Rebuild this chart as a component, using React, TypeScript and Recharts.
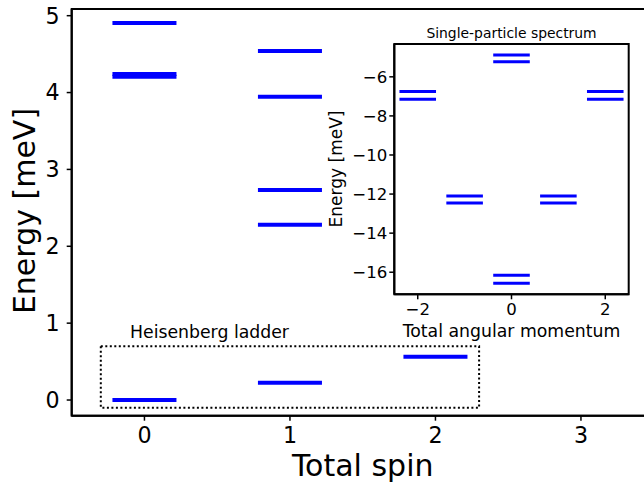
import React from 'react';
import { LineChart, Line, XAxis, YAxis, ReferenceArea } from 'recharts';

const FONT = '"DejaVu Sans", sans-serif';

// Main panel: many-body levels per total spin
const spins = [0, 1, 2];
const spinLevels: number[][] = [
  [4.906, 4.24, 4.205, 0],
  [4.54, 3.946, 2.732, 2.281, 0.225],
  [0.563],
];
const mainXTicks = [0, 1, 2, 3];
const mainYTicks = [0, 1, 2, 3, 4, 5];
const mainHalfWidth = 0.22;
const ladderBox = { x1: -0.3, x2: 2.3, y1: -0.1, y2: 0.7 };

// Inset: single-particle spectrum per angular momentum
const momenta = [-2, -1, 0, 1, 2];
const momentumLevels: number[][] = [
  [-6.75, -7.15],
  [-12.1, -12.46],
  [-4.88, -5.23, -16.15, -16.56],
  [-12.1, -12.46],
  [-6.75, -7.15],
];
const insetXTicks = [-2, 0, 2];
const insetYTicks = [-6, -8, -10, -12, -14, -16];
const insetHalfWidth = 0.39;

const mainXDomain: [number, number] = [-0.5, 3.5];
const mainYDomain: [number, number] = [-0.204, 5.087];
const insetXDomain: [number, number] = [-2.5, 2.5];
const insetYDomain: [number, number] = [-17.13, -4.32];

const makeSegments = (xs: number[], levels: number[][], hw: number) => {
  const segs: { key: string; data: { x: number; y: number }[] }[] = [];
  xs.forEach((x, i) => {
    levels[i].forEach((e, j) => {
      segs.push({ key: `s${i}-${j}`, data: [{ x: x - hw, y: e }, { x: x + hw, y: e }] });
    });
  });
  return segs;
};

const mainSegs = makeSegments(spins, spinLevels, mainHalfWidth);
const insetSegs = makeSegments(momenta, momentumLevels, insetHalfWidth);

const minusFmt = (v: number) => (v < 0 ? '\u2212' + Math.abs(v) : String(v));

const axisLine = { stroke: '#000', strokeWidth: 2 };
const tickLine = { stroke: '#000', strokeWidth: 1.5 };

export default function App() {
  return (
    <div style={{ position: 'absolute', left: 0, top: 0, width: 644, height: 483, overflow: 'hidden', background: '#fff' }}>
      <div style={{ position: 'absolute', left: 0, top: 0 }}>
        <LineChart width={700} height={483} margin={{ top: 9, right: 46.3, bottom: 27.3, left: 11.7 }}>
          <XAxis
            type="number"
            dataKey="x"
            domain={mainXDomain}
            ticks={mainXTicks}
            allowDataOverflow
            height={40}
            tickSize={5}
            tickMargin={7}
            axisLine={axisLine}
            tickLine={tickLine}
            fontSize={22.2}
            fontFamily={FONT}
            tick={{ fill: '#000', fontSize: 22.2, fontFamily: FONT }}
          />
          <YAxis
            type="number"
            domain={mainYDomain}
            ticks={mainYTicks}
            allowDataOverflow
            width={60}
            tickSize={5}
            tickMargin={7}
            axisLine={axisLine}
            tickLine={tickLine}
            fontSize={22.2}
            fontFamily={FONT}
            tick={{ fill: '#000', fontSize: 22.2, fontFamily: FONT }}
          />
          <ReferenceArea
            x1={mainXDomain[0]}
            x2={mainXDomain[1]}
            y1={mainYDomain[0]}
            y2={mainYDomain[1]}
            fill="none"
            fillOpacity={0}
            stroke="#000"
            strokeWidth={2}
            ifOverflow="visible"
          />
          <ReferenceArea
            x1={ladderBox.x1}
            x2={ladderBox.x2}
            y1={ladderBox.y1}
            y2={ladderBox.y2}
            fill="none"
            fillOpacity={0}
            stroke="#000"
            strokeWidth={2}
            strokeDasharray="2 2.5"
            ifOverflow="visible"
          />
          {mainSegs.map((s) => (
            <Line
              key={s.key}
              data={s.data}
              dataKey="y"
              type="linear"
              stroke="#0000ff"
              strokeWidth={4}
              strokeLinecap="butt"
              dot={false}
              activeDot={false}
              isAnimationActive={false}
            />
          ))}
        </LineChart>
      </div>
      <div style={{ position: 'absolute', left: 330, top: 30 }}>
        <LineChart width={310} height={300} margin={{ top: 14, right: 11.3, bottom: 5.7, left: 14.3 }}>
          <XAxis
            type="number"
            dataKey="x"
            domain={insetXDomain}
            ticks={insetXTicks}
            allowDataOverflow
            height={30}
            tickSize={5}
            tickMargin={4}
            tickFormatter={minusFmt}
            axisLine={axisLine}
            tickLine={tickLine}
            fontSize={16.6}
            fontFamily={FONT}
            tick={{ fill: '#000', fontSize: 16.6, fontFamily: FONT }}
          />
          <YAxis
            type="number"
            domain={insetYDomain}
            ticks={insetYTicks}
            allowDataOverflow
            width={50}
            tickSize={5}
            tickMargin={2}
            tickFormatter={minusFmt}
            axisLine={axisLine}
            tickLine={tickLine}
            fontSize={16.6}
            fontFamily={FONT}
            tick={{ fill: '#000', fontSize: 16.6, fontFamily: FONT }}
          />
          <ReferenceArea
            x1={insetXDomain[0]}
            x2={insetXDomain[1]}
            y1={insetYDomain[0]}
            y2={insetYDomain[1]}
            fill="none"
            fillOpacity={0}
            stroke="#000"
            strokeWidth={2}
            ifOverflow="visible"
          />
          {insetSegs.map((s) => (
            <Line
              key={s.key}
              data={s.data}
              dataKey="y"
              type="linear"
              stroke="#0000ff"
              strokeWidth={3}
              strokeLinecap="butt"
              dot={false}
              activeDot={false}
              isAnimationActive={false}
            />
          ))}
        </LineChart>
      </div>
      <svg width={644} height={483} style={{ position: 'absolute', left: 0, top: 0, pointerEvents: 'none' }} fontFamily={FONT}>
        <text x={362.7} y={476} textAnchor="middle" fontSize={30} fill="#000">Total spin</text>
        <text x={35} y={211} textAnchor="middle" fontSize={30} fill="#000" transform="rotate(-90 35 211)">Energy [meV]</text>
        <text x={130} y={338} fontSize={17.3} fill="#000">Heisenberg ladder</text>
        <text x={511.5} y={37.5} textAnchor="middle" fontSize={13.9} fill="#000">Single-particle spectrum</text>
        <text x={511.5} y={336.7} textAnchor="middle" fontSize={17.3} fill="#000">Total angular momentum</text>
        <text x={341.5} y={169} textAnchor="middle" fontSize={17} fill="#000" transform="rotate(-90 341.5 169)">Energy [meV]</text>
      </svg>
    </div>
  );
}
